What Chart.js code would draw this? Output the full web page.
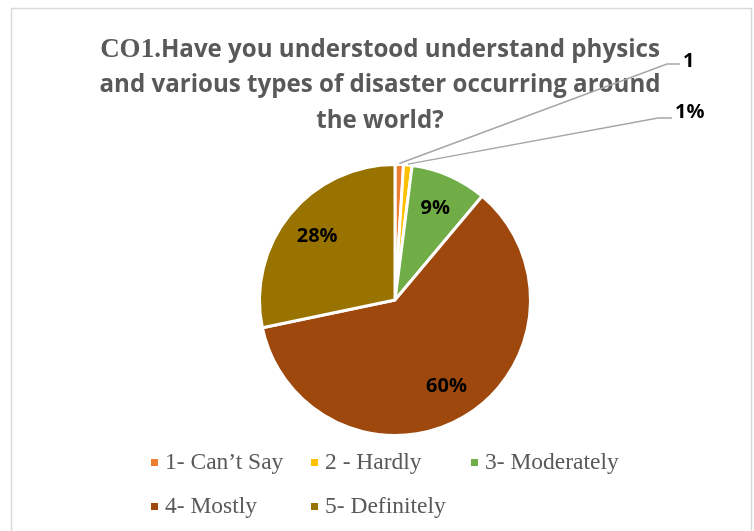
<!DOCTYPE html>
<html>
<head>
<meta charset="utf-8">
<script src="https://cdn.jsdelivr.net/npm/chart.js@4.4.1/dist/chart.umd.min.js"></script>
<style>
html, body { margin: 0; padding: 0; background: #fff; }
#wrap { width: 754px; height: 531px; }
</style>
</head>
<body>
<div id="wrap"><canvas id="coChart" width="754" height="531"></canvas></div>
<script>
// values (percent of answers)
const categories = ['1- Can\u2019t Say', '2 - Hardly', '3- Moderately', '4- Mostly', '5- Definitely'];
const percents = [1, 1, 9, 60, 28];
const sliceLabels = ['1', '1%', '9%', '60%', '28%'];
const sliceColors = ['#ED7D31', '#FFC000', '#70AD47', '#9E480E', '#997300'];
const titlePrefix = 'CO1.';
const titleLines = ['Have you understood understand physics', 'and various types of disaster occurring around', 'the world?'];

const grey = '#595959';

// frame, title, slice labels, leader lines and legend
const decor = {
    id: 'decor',
    beforeDraw(chart) {
        const ctx = chart.ctx;
        ctx.save();
        ctx.fillStyle = '#fff';
        ctx.fillRect(0, 0, chart.width, chart.height);
        ctx.strokeStyle = '#d9d9d9';
        ctx.lineWidth = 1.5;
        ctx.strokeRect(11.5, 8.5, 740, 540);
        ctx.restore();
    },
    afterDraw(chart) {
        const ctx = chart.ctx;
        ctx.save();

        // title: fit the second line to the width it has in the picture
        ctx.font = 'bold 22px "Open Sans"';
        const size = 22 * 561 / ctx.measureText(titleLines[1]).width;
        const sans = 'bold ' + size.toFixed(2) + 'px "Open Sans"';
        const serif = 'bold ' + (size * 1.12).toFixed(2) + 'px "Liberation Serif"';
        const tx = 380;
        const baselines = [57, 92, 128];
        ctx.fillStyle = grey;
        ctx.textBaseline = 'alphabetic';
        ctx.font = serif;
        const wPre = ctx.measureText(titlePrefix).width;
        ctx.font = sans;
        const wRest = ctx.measureText(titleLines[0]).width;
        let x0 = tx - (wPre + wRest) / 2;
        ctx.textAlign = 'left';
        ctx.font = serif;
        ctx.fillText(titlePrefix, x0, baselines[0]);
        ctx.font = sans;
        ctx.fillText(titleLines[0], x0 + wPre, baselines[0]);
        ctx.textAlign = 'center';
        ctx.fillText(titleLines[1], tx, baselines[1]);
        ctx.fillText(titleLines[2], tx, baselines[2]);

        // slice labels
        const meta = chart.getDatasetMeta(0);
        ctx.font = 'bold 20px "Open Sans"';
        ctx.fillStyle = '#000';
        ctx.textBaseline = 'middle';
        const outside = {
            0: { elbow: [667, 64], end: [680, 64], text: [683, 61] },
            1: { elbow: [658, 118], end: [672, 118], text: [675, 112] }
        };
        meta.data.forEach((arc, i) => {
            const p = arc.getProps(['x', 'y', 'startAngle', 'endAngle', 'outerRadius'], true);
            const mid = (p.startAngle + p.endAngle) / 2;
            if (outside[i]) {
                const o = outside[i];
                const sx = p.x + Math.cos(mid) * (p.outerRadius + 1);
                const sy = p.y + Math.sin(mid) * (p.outerRadius + 1);
                ctx.strokeStyle = '#a6a6a6';
                ctx.lineWidth = 1.5;
                ctx.beginPath();
                ctx.moveTo(sx, sy);
                ctx.lineTo(o.elbow[0], o.elbow[1]);
                ctx.lineTo(o.end[0], o.end[1]);
                ctx.stroke();
                ctx.textAlign = 'left';
                ctx.fillText(sliceLabels[i], o.text[0], o.text[1]);
            } else {
                const r = p.outerRadius * 0.74;
                ctx.textAlign = 'center';
                ctx.fillText(sliceLabels[i], p.x + Math.cos(mid) * r, p.y + Math.sin(mid) * r);
            }
        });

        // legend in a grid like the original
        const cols = [151, 311, 471];
        const rows = [469, 513];
        ctx.font = '23.5px "Liberation Serif"';
        ctx.textAlign = 'left';
        ctx.textBaseline = 'alphabetic';
        categories.forEach((name, i) => {
            const cx = cols[i % 3];
            const by = rows[Math.floor(i / 3)];
            ctx.fillStyle = sliceColors[i];
            ctx.fillRect(cx, by - 10, 7, 7);
            ctx.fillStyle = grey;
            ctx.fillText(name, cx + 14, by);
        });

        ctx.restore();
    }
};

new Chart(document.getElementById('coChart'), {
    type: 'pie',
    data: {
        labels: categories,
        datasets: [{
            data: percents,
            backgroundColor: sliceColors,
            borderColor: '#ffffff',
            borderWidth: 3
        }]
    },
    options: {
        responsive: false,
        animation: false,
        layout: {
            padding: { left: 258, right: 222, top: 163, bottom: 94 }
        },
        plugins: {
            legend: { display: false },
            title: { display: false },
            tooltip: { enabled: false }
        }
    },
    plugins: [decor]
});
</script>
</body>
</html>
